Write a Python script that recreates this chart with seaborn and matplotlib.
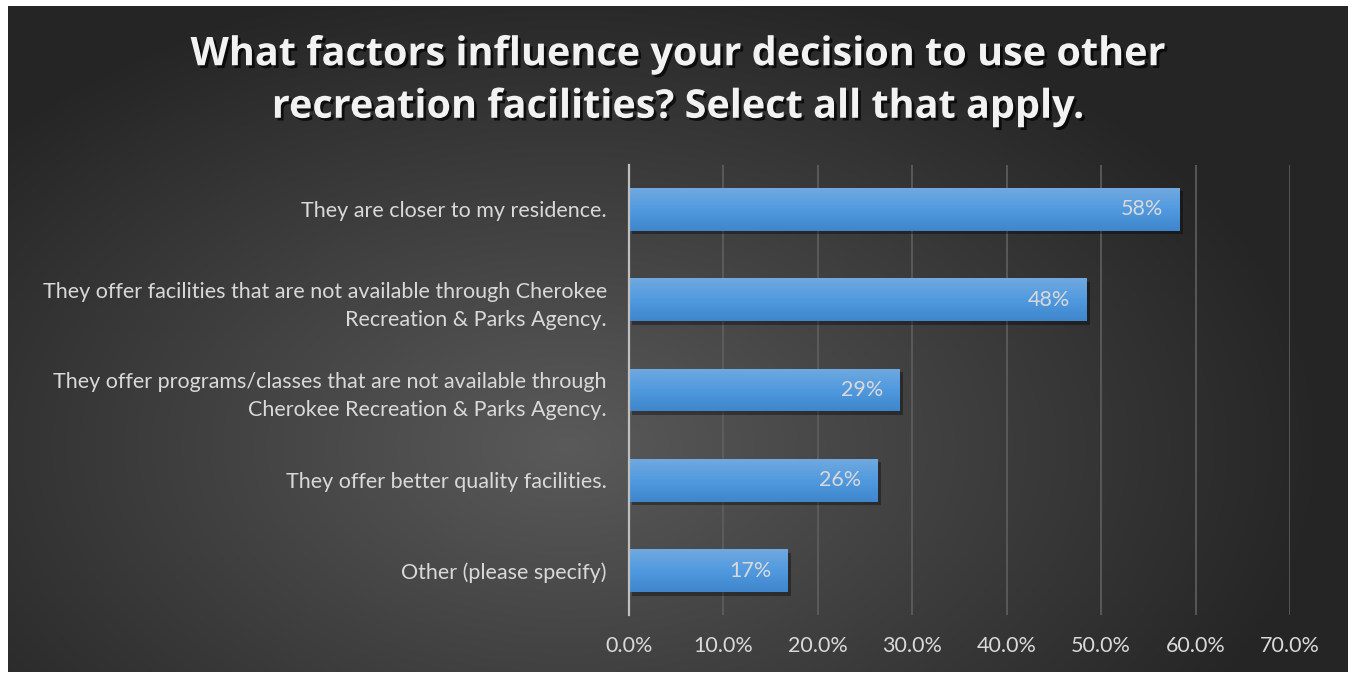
import numpy as np
import pandas as pd
import seaborn as sns
import matplotlib.pyplot as plt
import matplotlib.patheffects as pe
from matplotlib.colors import LinearSegmentedColormap

# Datos
# ==============================================================================
factores = [
    "They are closer to my residence.",
    "They offer facilities that are not available through Cherokee\nRecreation & Parks Agency.",
    "They offer programs/classes that are not available through\nCherokee Recreation & Parks Agency.",
    "They offer better quality facilities.",
    "Other (please specify)",
]
porcentajes = [58.3, 48.4, 28.6, 26.3, 16.8]
etiquetas = ["58%", "48%", "29%", "26%", "17%"]
ticks_x = [0, 10, 20, 30, 40, 50, 60, 70]

df = pd.DataFrame({"factor": factores, "pct": porcentajes})

# Estilo
# ==============================================================================
sns.set_style("white")
plt.rcParams['font.family'] = ['Lato', 'DejaVu Sans']
gris_txt = "#d9d9d9"

fig = plt.figure(figsize=(13.51, 6.75), dpi=100, facecolor="white")

# Fondo con degradado radial
bg = fig.add_axes([8/1351, 3/675, 1340/1351, 666/675])
W, H = 1340, 666
xx, yy = np.meshgrid(np.arange(W), np.arange(H))
d = np.sqrt(((xx - 560) / 760) ** 2 + ((yy - 440) / 480) ** 2)
d = np.clip(d, 0, 1)
c0 = np.array([0x5a, 0x5a, 0x5a]) / 255
c1 = np.array([0x25, 0x25, 0x25]) / 255
img = c0[None, None, :] * (1 - d[..., None]) + c1[None, None, :] * d[..., None]
bg.imshow(img, aspect="auto", interpolation="bilinear")
bg.set_axis_off()

# Gráfico principal
# ==============================================================================
ax = fig.add_axes([629/1351, 60/675, 661/1351, 450/675])
ax.patch.set_alpha(0)
sns.barplot(data=df, x="pct", y="factor", orient="h", ax=ax,
            width=0.475, color="#5b9bd5", linewidth=0, zorder=3)

ax.set_xlim(0, 70)
ax.set_ylim(4.49, -0.49)
ax.set_xticks(ticks_x)
ax.set_xticklabels([f"{t:.1f}%" for t in ticks_x])
ax.set_xlabel("")
ax.set_ylabel("")
ax.tick_params(axis="x", length=0, pad=15, labelsize=15.5, labelcolor=gris_txt)
ax.tick_params(axis="y", length=0, pad=16, labelsize=15.5, labelcolor=gris_txt)
for lab in ax.get_yticklabels():
    lab.set_multialignment("right")
    lab.set_linespacing(1.5)

ax.grid(axis="x", color="#5f5f5f", lw=1.2, zorder=0)
ax.grid(axis="y", visible=False)
for s in ["top", "right", "bottom"]:
    ax.spines[s].set_visible(False)
ax.spines["left"].set_color("#bfbfbf")
ax.spines["left"].set_linewidth(1.6)
ax.spines["left"].set_zorder(5)

# Degradado y sombra de las barras
azul = LinearSegmentedColormap.from_list("azul", ["#70a9df", "#519ae0", "#3f86cb"])
grad = np.linspace(0, 1, 64).reshape(-1, 1)
for p, lab in zip(ax.patches, etiquetas):
    x0, y0, w, h = p.get_x(), p.get_y(), p.get_width(), p.get_height()
    p.set_path_effects([pe.SimplePatchShadow(offset=(2.5, -2.5), alpha=0.35,
                                             shadow_rgbFace="black"), pe.Normal()])
    im = ax.imshow(grad, extent=[x0, x0 + w, y0 + h, y0], origin="upper",
                   aspect="auto", cmap=azul, zorder=3.5)
    im.set_clip_path(p)
    ax.text(x0 + w - 1.7, y0 + h / 2, lab, ha="right", va="center",
            color=gris_txt, fontsize=15.5, zorder=6)

ax.set_xlim(0, 70)
ax.set_ylim(4.49, -0.49)

# Título
# ==============================================================================
fig.text(0.502, 1 - 81/675,
         "What factors influence your decision to use other\nrecreation facilities? Select all that apply.",
         ha="center", va="center", fontsize=28.5, fontweight="bold",
         family=["Open Sans", "DejaVu Sans"], color="#f2f2f2", linespacing=1.45,
         path_effects=[pe.withSimplePatchShadow(offset=(2, -2), alpha=0.7,
                                                shadow_rgbFace="black")])

plt.savefig("out.png", dpi=100, facecolor="white")
